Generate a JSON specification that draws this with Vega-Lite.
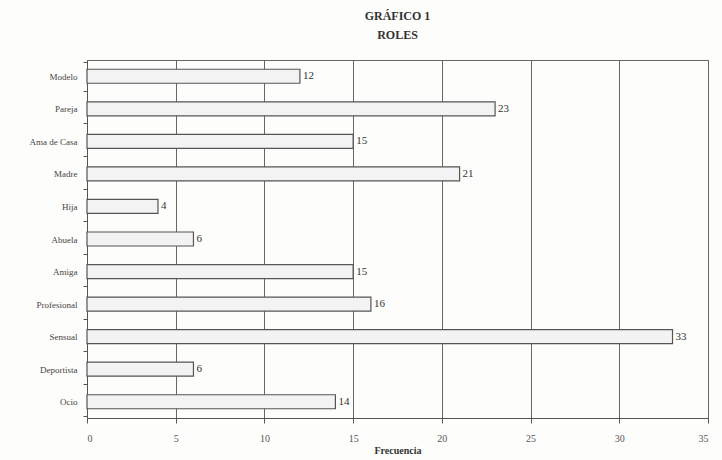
{
  "$schema": "https://vega.github.io/schema/vega-lite/v6.json",
  "autosize": {"type": "none"},
  "padding": {"left": 87, "top": 60, "right": 14, "bottom": 42},
  "width": 621,
  "height": 358,
  "background": "#fdfdfb",
  "title": {
    "text": ["GRÁFICO 1", "ROLES"],
    "font": "Liberation Serif",
    "fontSize": 12,
    "fontWeight": "bold",
    "color": "#333",
    "anchor": "middle",
    "offset": 14,
    "lineHeight": 19
  },
  "data": {
    "values": [
      {"rol": "Modelo", "frecuencia": 12},
      {"rol": "Pareja", "frecuencia": 23},
      {"rol": "Ama de Casa", "frecuencia": 15},
      {"rol": "Madre", "frecuencia": 21},
      {"rol": "Hija", "frecuencia": 4},
      {"rol": "Abuela", "frecuencia": 6},
      {"rol": "Amiga", "frecuencia": 15},
      {"rol": "Profesional", "frecuencia": 16},
      {"rol": "Sensual", "frecuencia": 33},
      {"rol": "Deportista", "frecuencia": 6},
      {"rol": "Ocio", "frecuencia": 14}
    ]
  },
  "encoding": {
    "y": {
      "field": "rol",
      "type": "nominal",
      "sort": null,
      "title": null,
      "axis": {
        "labelFont": "Liberation Serif",
        "labelFontSize": 9,
        "labelColor": "#444",
        "ticks": true,
        "tickBand": "extent",
        "tickSize": 4,
        "tickColor": "#555",
        "labelPadding": 6,
        "domainColor": "#555",
        "grid": false
      }
    },
    "x": {
      "field": "frecuencia",
      "type": "quantitative",
      "scale": {"domain": [0, 35]},
      "title": "Frecuencia",
      "axis": {
        "values": [0, 5, 10, 15, 20, 25, 30, 35],
        "labelFont": "Liberation Serif",
        "labelFontSize": 10,
        "labelColor": "#555",
        "labelPadding": 10,
        "titleFont": "Liberation Serif",
        "titleFontSize": 10,
        "titleFontWeight": "bold",
        "titleColor": "#333",
        "titlePadding": 2,
        "gridColor": "#666",
        "gridOpacity": 1,
        "gridWidth": 1,
        "domainColor": "#555",
        "tickColor": "#555",
        "tickSize": 5
      }
    }
  },
  "layer": [
    {
      "mark": {"type": "bar", "size": 14, "fill": "#f3f3f3", "stroke": "#555", "strokeWidth": 1.2},
      "encoding": {}
    },
    {
      "mark": {"type": "text", "align": "left", "dx": 3, "font": "Liberation Serif", "fontSize": 11, "color": "#333"},
      "encoding": {"text": {"field": "frecuencia", "type": "quantitative"}}
    }
  ],
  "config": {
    "view": {"stroke": "#666", "strokeWidth": 1}
  }
}
